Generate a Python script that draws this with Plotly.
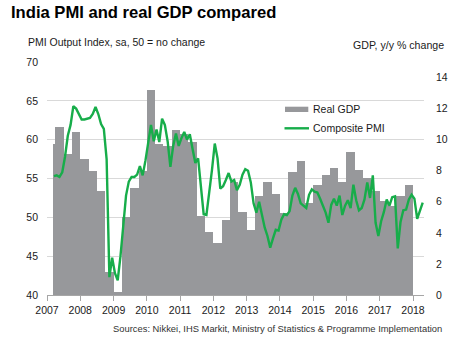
import plotly.graph_objects as go

# ---------------- data ----------------
years = list(range(2007, 2019))
year_labels = [str(y) for y in years]

# Real GDP, y/y % change, quarterly Q1 2007 .. Q4 2017 (series starts Mar 2007)
gdp_q = [
    9.75, 10.8, 9.05, 10.5,    # 2007
    8.75, 8.0, 6.7, 1.5,       # 2008
    0.2, 5.0, 6.9, 8.0,        # 2009
    13.2, 9.7, 9.6, 10.65,     # 2010
    10.35, 9.85, 5.1, 4.05,    # 2011
    3.35, 4.85, 7.3, 5.35,     # 2012
    4.2, 6.4, 7.3, 6.5,        # 2013
    5.3, 7.95, 8.65, 5.9,      # 2014
    7.05, 7.7, 8.15, 7.3,      # 2015
    9.2, 8.05, 7.55, 6.7,      # 2016
    6.05, 5.7, 6.4, 7.1,       # 2017
]
gdp_start_month = 2  # March 2007 (0 = Jan 2007)

# Composite PMI, monthly, Mar 2007 .. Apr 2018
pmi = [
    55.3, 55.4, 55.2, 55.8, 57.8, 60.5, 61.9, 64.3, 64.0, 63.3,              # 2007 Mar-Dec
    62.6, 62.6, 62.7, 62.8, 63.3, 64.2, 63.3, 62.0, 61.4, 57.5, 42.3, 44.8,  # 2008
    42.8, 41.9, 45.0, 48.8, 52.8, 54.6, 55.2, 55.2, 55.5, 56.6, 55.4, 57.3,  # 2009
    59.6, 61.9, 59.8, 61.3, 59.7, 62.7, 61.9, 59.8, 56.5, 59.2, 60.8, 59.2,  # 2010
    60.2, 61.0, 60.0, 60.7, 58.8, 57.0, 57.6, 54.4, 50.4, 50.3, 53.1, 56.1,  # 2011
    59.5, 57.6, 53.7, 54.0, 54.8, 55.7, 54.6, 54.8, 53.5, 54.2, 55.5, 56.2,  # 2012
    56.0, 54.5, 51.8, 50.6, 52.0, 50.1, 48.7, 47.6, 46.1, 47.3, 48.4, 48.3,  # 2013
    49.7, 50.4, 50.3, 50.8, 52.8, 53.8, 53.0, 51.8, 51.5, 51.2, 52.9, 53.6,  # 2014
    53.3, 53.2, 52.4, 51.4, 50.6, 49.3, 51.6, 52.4, 51.5, 52.8, 50.3, 51.5,  # 2015
    52.2, 51.2, 54.2, 52.2, 50.9, 51.2, 52.3, 54.5, 52.5, 55.4, 49.3, 47.6,  # 2016
    49.5, 50.7, 52.3, 51.5, 52.6, 52.7, 46.0, 49.4, 50.9, 51.0, 52.3, 52.9,  # 2017
    52.4, 49.8, 50.8, 51.9,                                                  # 2018 Jan-Apr
]
pmi_start_month = 2  # March 2007

left_ticks = [40, 45, 50, 55, 60, 65, 70]
right_ticks = [0, 2, 4, 6, 8, 10, 12, 14]

# ---------------- derived positions (time in fractional years) ----------------
gdp_x, gdp_w = [], []
for k, v in enumerate(gdp_q):
    m0 = max(3 * k, gdp_start_month)
    m1 = 3 * k + 3
    gdp_x.append(2007 + (m0 + m1) / 2 / 12)
    gdp_w.append((m1 - m0) / 12)

pmi_x = [2007 + (pmi_start_month + i + 0.5) / 12 for i in range(len(pmi))]

FONT = "Liberation Sans, Arial, sans-serif"
TXT = "#1a1a1a"

fig = go.Figure()
fig.add_trace(go.Bar(
    x=gdp_x, y=gdp_q, width=gdp_w, name="Real GDP",
    marker=dict(color="#97989b", line=dict(width=0)),
    yaxis="y", showlegend=False, hoverinfo="skip",
))
fig.add_trace(go.Scatter(
    x=pmi_x, y=pmi, name="Composite PMI", mode="lines",
    line=dict(color="#17ad4a", width=2.4),
    yaxis="y2", showlegend=False, hoverinfo="skip",
))

L, R, T, B = 47, 36, 62, 54
W, H = 460, 349
pw, ph = W - L - R, H - T - B


def px(xp):
    return (xp - L) / pw


def py(yp):
    return (H - B - yp) / ph


fig.update_layout(
    width=W, height=H,
    margin=dict(l=L, r=R, t=T, b=B, pad=0),
    paper_bgcolor="white", plot_bgcolor="white",
    font=dict(family=FONT, size=10.5, color=TXT),
    bargap=0,
    xaxis=dict(
        range=[2007, 2018.33], tickmode="array", tickvals=years, ticktext=year_labels,
        showgrid=False, zeroline=False, showline=True, linecolor="#a6a6a6", linewidth=1,
        ticks="outside", ticklen=5, tickcolor="#a6a6a6", tickwidth=1,
        tickfont=dict(size=10.5, color=TXT),
    ),
    yaxis=dict(
        side="right", range=[0, 15], tickmode="array", tickvals=right_ticks,
        showgrid=False, zeroline=False, showline=False, ticks="",
        ticklabelstandoff=11, tickfont=dict(size=10.5, color=TXT),
    ),
    yaxis2=dict(
        side="left", overlaying="y", anchor="x", range=[40, 70], tickmode="array",
        tickvals=left_ticks, showgrid=True, gridcolor="#d9d9d9", gridwidth=1,
        zeroline=False, showline=False, ticks="", ticklabelstandoff=8,
        tickfont=dict(size=10.5, color=TXT),
    ),
    shapes=[
        dict(type="rect", xref="paper", yref="paper",
             x0=px(285), x1=px(308.3), y0=py(112), y1=py(106.7),
             fillcolor="#97989b", line=dict(width=0)),
        dict(type="line", xref="paper", yref="paper",
             x0=px(284.5), x1=px(309), y0=py(128.3), y1=py(128.3),
             line=dict(color="#17ad4a", width=2.4)),
    ],
    annotations=[
        dict(text="<b>India PMI and real GDP compared</b>", xref="paper", yref="paper",
             x=px(9), y=py(12.5), xanchor="left", yanchor="middle", showarrow=False,
             font=dict(size=16.6, color="#000000", family=FONT)),
        dict(text="PMI Output Index, sa, 50 = no change", xref="paper", yref="paper",
             x=px(25.5), y=py(42.5), xanchor="left", yanchor="middle", showarrow=False,
             font=dict(size=10.5, color=TXT)),
        dict(text="GDP, y/y % change", xref="paper", yref="paper",
             x=px(446), y=py(45), xanchor="right", yanchor="middle", showarrow=False,
             font=dict(size=10.6, color=TXT)),
        dict(text="Real GDP", xref="paper", yref="paper",
             x=px(310.5), y=py(109.3), xanchor="left", yanchor="middle", showarrow=False,
             font=dict(size=10.5, color=TXT)),
        dict(text="Composite PMI", xref="paper", yref="paper",
             x=px(310.5), y=py(128), xanchor="left", yanchor="middle", showarrow=False,
             font=dict(size=10.5, color=TXT)),
        dict(text="Sources: Nikkei, IHS Markit, Ministry of Statistics &amp; Programme Implementation",
             xref="paper", yref="paper", x=px(443.5), y=py(328.3), xanchor="right",
             yanchor="middle", showarrow=False, font=dict(size=9.4, color="#333333")),
    ],
)

fig.write_html("out.html", config=dict(displayModeBar=False, staticPlot=True))
